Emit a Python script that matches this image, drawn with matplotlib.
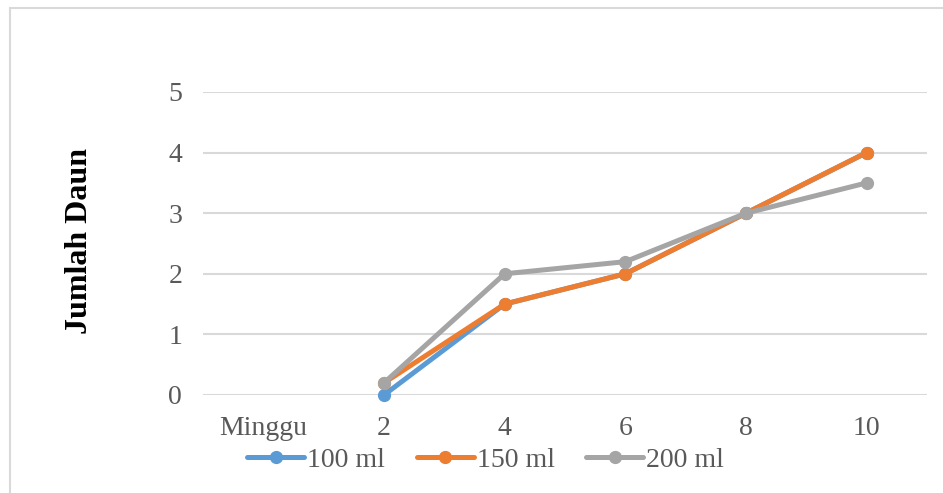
import matplotlib
matplotlib.use("Agg")
import matplotlib.pyplot as plt
from matplotlib.patches import Rectangle

plt.rcParams['font.family'] = ['Liberation Serif', 'DejaVu Serif']

categories = ["Minggu", "2", "4", "6", "8", "10"]
weeks = ["2", "4", "6", "8", "10"]
daun_100 = [0, 1.5, 2, 3, 4]
daun_150 = [0.2, 1.5, 2, 3, 4]
daun_200 = [0.2, 2, 2.2, 3, 3.5]

series = [("100 ml", daun_100, "#5B9BD5"),
          ("150 ml", daun_150, "#ED7D31"),
          ("200 ml", daun_200, "#A5A5A5")]

fig = plt.figure(figsize=(9.43, 4.93), dpi=100)
ax = fig.add_axes([0.2153, 0.1988, 0.7677, 0.6146])

xpos = [categories.index(w) for w in weeks]
for label, vals, col in series:
    ax.plot(xpos, vals, color=col, lw=3.6, marker='o', ms=8.5,
            solid_capstyle='round', label=label, clip_on=False, zorder=3)

ax.set_xlim(-0.5, len(categories) - 0.5)
ax.set_ylim(0, 5)
ax.set_xticks(range(len(categories)))
ax.set_xticklabels(categories)
ax.set_yticks(range(0, 6))
ax.tick_params(length=0, labelsize=20, labelcolor="#595959")
ax.tick_params(axis='x', pad=15)
ax.tick_params(axis='y', pad=15)
ax.grid(axis='y', color="#D9D9D9", lw=1.5)
ax.set_axisbelow(True)
for s in ax.spines.values():
    s.set_visible(False)

fig.text(0.084, 0.511, "Jumlah Daun", rotation=90, ha='center', va='center',
         fontsize=23, fontweight='bold', color='black')

fig.legend(loc='center', bbox_to_anchor=(0.515, 0.067), ncol=3, frameon=False,
           fontsize=20, handlelength=2.05, handletextpad=0.1,
           columnspacing=1.15, labelcolor="#595959")

# chart area outline
fig.patches.append(Rectangle((0.0106, -0.1), 1.2, 1.083, transform=fig.transFigure,
                             fill=False, edgecolor="#D9D9D9", lw=1.5))

fig.savefig("out.png", dpi=100)
